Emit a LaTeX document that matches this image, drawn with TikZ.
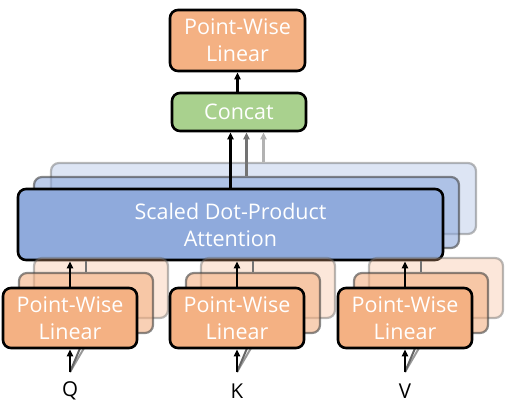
\documentclass[tikz,border=0pt]{standalone}
\usepackage{fontspec}
\setmainfont{Open Sans}
\usetikzlibrary{arrows.meta}
\definecolor{orangeBox}{HTML}{F4B183}
\definecolor{greenBox}{HTML}{A9D18E}
\definecolor{blueBox}{HTML}{8FAADC}
\tikzset{
  box/.style={draw=black, line width=2.6pt, rounded corners=8pt, text=white, align=center,
    font=\fontsize{21.5}{27}\selectfont, inner sep=0pt},
  backB/.style={draw=black!75, line width=2.2pt, rounded corners=8pt, fill opacity=0.6, draw opacity=0.6},
  backC/.style={draw=black!60, line width=2.2pt, rounded corners=8pt, fill opacity=0.3, draw opacity=0.45},
  pwl/.style={box, fill=orangeBox, minimum width=134pt, minimum height=60pt},
  tip/.style={-{Triangle[length=7pt,width=6pt]}, line width=2.2pt},
  inlabel/.style={font=\fontsize{20.5}{22}\selectfont, inner sep=2pt}
}
\begin{document}
\begin{tikzpicture}[x=1pt,y=-1pt]
			%%%%% START %%%%%
			\useasboundingbox (0,0) rectangle (508,416);
			
			% attention stack
			\node[backC, fill=blueBox, minimum width=425pt, minimum height=71pt] (attnC) at (263.5,198.5) {};
			\node[backB, fill=blueBox, minimum width=425pt, minimum height=71pt] (attnB) at (246.5,212.5) {};
			\node[box, fill=blueBox, minimum width=425pt, minimum height=71pt] (attn) at (230.5,224.5) {Scaled Dot-Product\\Attention};
			
			% Q
			\node[backC, fill=orangeBox, minimum width=134pt, minimum height=60pt] (pwlQc) at (101,288) {};
			\node[backB, fill=orangeBox, minimum width=134pt, minimum height=60pt] (pwlQb) at (86,303) {};
			\node[inlabel] (inQ) at (70,391) {Q};
			\coordinate (srcQ) at (70,372);
			\draw[line width=2pt, black!40] (srcQ) -- (pwlQc.south);
			\draw[line width=2pt, black!60] (srcQ) -- (pwlQb.south);
			\node[pwl] (pwlQ) at (70,318) {Point-Wise\\Linear};
			\draw[tip] (srcQ) -- (pwlQ.south);
			\draw[line width=2pt, black!55] (pwlQb.north) -- (pwlQb.north |- attn.south);
			\draw[tip] (pwlQ.north) -- (attn.south -| pwlQ.north);
			
			% K
			\node[backC, fill=orangeBox, minimum width=134pt, minimum height=60pt] (pwlKc) at (268,288) {};
			\node[backB, fill=orangeBox, minimum width=134pt, minimum height=60pt] (pwlKb) at (253,303) {};
			\node[inlabel] (inK) at (237,391) {K};
			\coordinate (srcK) at (237,372);
			\draw[line width=2pt, black!40] (srcK) -- (pwlKc.south);
			\draw[line width=2pt, black!60] (srcK) -- (pwlKb.south);
			\node[pwl] (pwlK) at (237,318) {Point-Wise\\Linear};
			\draw[tip] (srcK) -- (pwlK.south);
			\draw[line width=2pt, black!55] (pwlKb.north) -- (pwlKb.north |- attn.south);
			\draw[tip] (pwlK.north) -- (attn.south -| pwlK.north);
			
			% V
			\node[backC, fill=orangeBox, minimum width=134pt, minimum height=60pt] (pwlVc) at (436,288) {};
			\node[backB, fill=orangeBox, minimum width=134pt, minimum height=60pt] (pwlVb) at (421,303) {};
			\node[inlabel] (inV) at (405,391) {V};
			\coordinate (srcV) at (405,372);
			\draw[line width=2pt, black!40] (srcV) -- (pwlVc.south);
			\draw[line width=2pt, black!60] (srcV) -- (pwlVb.south);
			\node[pwl] (pwlV) at (405,318) {Point-Wise\\Linear};
			\draw[tip] (srcV) -- (pwlV.south);
			\draw[line width=2pt, black!55] (pwlVb.north) -- (pwlVb.north |- attn.south);
			\draw[tip] (pwlV.north) -- (attn.south -| pwlV.north);
			
			% concat and output
			\node[box, fill=greenBox, minimum width=134pt, minimum height=38pt] (concat) at (239,112) {Concat};
			\node[pwl, minimum width=135pt, minimum height=61pt] (pwlOut) at (237.5,40.5) {Point-Wise\\Linear};
			
			\draw[tip] (attn.north) -- (attn.north |- concat.south);
			\draw[tip, black!55] (attnB.north) -- (attnB.north |- concat.south);
			\draw[tip, black!30] (attnC.north) -- (attnC.north |- concat.south);
			\draw[tip] (concat.north -| pwlOut.south) -- (pwlOut.south);
			
			%%%%% END %%%%%
		\end{tikzpicture}
\end{document}
